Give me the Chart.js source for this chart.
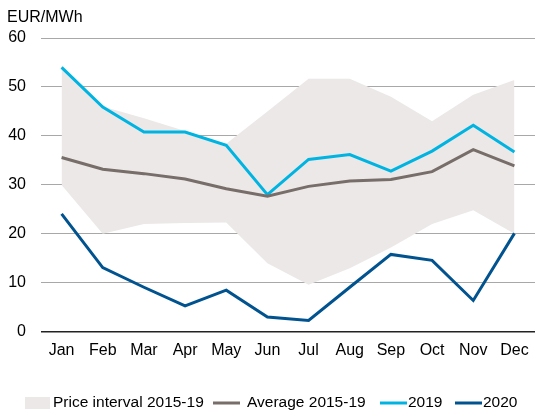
<!DOCTYPE html>
<html>
<head>
<meta charset="utf-8">
<script src="https://cdn.jsdelivr.net/npm/chart.js@4/dist/chart.umd.min.js"></script>
<style>
  html, body { margin: 0; padding: 0; background: #fff; }
  #wrap { width: 535px; height: 412px; }
</style>
</head>
<body>
<div id="wrap"><canvas id="chart" width="535" height="412"></canvas></div>
<script>
// months on the x axis
const months = ['Jan', 'Feb', 'Mar', 'Apr', 'May', 'Jun', 'Jul', 'Aug', 'Sep', 'Oct', 'Nov', 'Dec'];

// price interval 2015-19 (min / max)
const intervalLow  = [30, 20, 22, 22.2, 22.3, 14, 9.6, 13, 17.2, 22, 24.8, 20];
const intervalHigh = [54, 46, 43.6, 41, 38.4, 45, 51.7, 51.7, 48, 43, 48.4, 51.4];

const average1519 = [35.6, 33.2, 32.3, 31.2, 29.2, 27.7, 29.7, 30.8, 31.1, 32.7, 37.2, 33.9];
const prices2019  = [54, 45.9, 40.8, 40.8, 38.1, 28, 35.2, 36.2, 32.8, 36.9, 42.2, 36.7];
const prices2020  = [24.1, 13.1, 9.1, 5.3, 8.5, 3.0, 2.3, 9.1, 15.8, 14.6, 6.4, 20.1];

const yTicks = [0, 10, 20, 30, 40, 50, 60];

const FONT = 'Arial, "Liberation Sans", sans-serif';
const AREA = '#ebe8e7';

// unit label in the top left corner + legend along the bottom
const extras = {
  id: 'extras',
  afterDraw(chart) {
    const ctx = chart.ctx;
    ctx.save();
    ctx.font = '16px ' + FONT;
    ctx.fillStyle = '#000';
    ctx.textBaseline = 'middle';
    ctx.fillText('EUR/MWh', 7, 18);

    const y = 403;
    ctx.font = '15.5px ' + FONT;
    // legend items: [kind, color, x of symbol, x of text, label]
    const items = [
      ['box', AREA, 25, 53, 'Price interval 2015-19'],
      ['line', '#776d69', 213, 247, 'Average 2015-19'],
      ['line', '#00b4e2', 380, 408, '2019'],
      ['line', '#00538f', 455, 483, '2020']
    ];
    items.forEach(([kind, color, sx, tx, text]) => {
      if (kind === 'box') {
        ctx.fillStyle = color;
        ctx.fillRect(sx, y - 6, 25, 12);
      } else {
        ctx.strokeStyle = color;
        ctx.lineWidth = 3;
        ctx.beginPath();
        ctx.moveTo(sx, y);
        ctx.lineTo(sx + 27, y);
        ctx.stroke();
      }
      ctx.fillStyle = '#000';
      ctx.fillText(text, tx, y);
    });
    ctx.restore();
  }
};

const lineDs = (label, data, color) => ({
  label: label,
  data: data,
  borderColor: color,
  backgroundColor: color,
  borderWidth: 3,
  pointRadius: 0,
  tension: 0,
  fill: false,
  order: 1
});

new Chart(document.getElementById('chart'), {
  type: 'line',
  data: {
    labels: months,
    datasets: [
      {
        label: 'low',
        data: intervalLow,
        borderWidth: 0,
        pointRadius: 0,
        fill: false,
        order: 5
      },
      {
        label: 'Price interval 2015-19',
        data: intervalHigh,
        borderWidth: 0,
        borderColor: AREA,
        backgroundColor: AREA,
        pointRadius: 0,
        fill: '-1',
        order: 5
      },
      lineDs('Average 2015-19', average1519, '#776d69'),
      lineDs('2019', prices2019, '#00b4e2'),
      lineDs('2020', prices2020, '#00538f')
    ]
  },
  options: {
    responsive: false,
    animation: false,
    layout: { padding: { top: 38, left: 0, right: -2, bottom: 51 } },
    plugins: {
      tooltip: { enabled: false },
      legend: { display: false }
    },
    scales: {
      x: {
        offset: true,
        grid: { display: false },
        border: { display: false },
        ticks: { color: '#000', font: { family: FONT, size: 16 }, padding: 1, maxRotation: 0 }
      },
      y: {
        min: 0,
        max: 60,
        afterBuildTicks: axis => { axis.ticks = yTicks.map(v => ({ value: v })); },
        afterFit: axis => { axis.width = 41; },
        border: { display: false },
        grid: {
          drawTicks: false,
          color: ctx => ctx.tick.value === 0 ? '#222' : '#a8a8a8',
          lineWidth: ctx => ctx.tick.value === 0 ? 1.5 : 1
        },
        ticks: { color: '#000', font: { family: FONT, size: 16 }, padding: 15 }
      }
    }
  },
  plugins: [extras]
});
</script>
</body>
</html>
